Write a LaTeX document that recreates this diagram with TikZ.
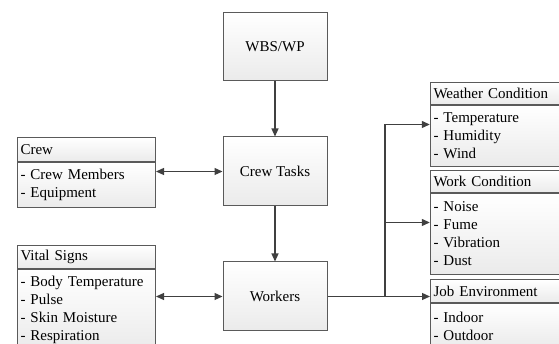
\documentclass[tikz,border=0pt]{standalone}
\usepackage{fontspec}
\setmainfont{Liberation Serif}
\usetikzlibrary{arrows.meta}
\usetikzlibrary{fit}
\definecolor{boxline}{HTML}{5A5A5A}
\definecolor{linkgray}{HTML}{404040}
\tikzset{
	box/.style={draw=boxline, line width=1pt, top color=white, bottom color=black!8, inner sep=3pt},
	mainbox/.style={box, minimum width=104pt, minimum height=69pt},
	headbox/.style={box, anchor=north west, minimum height=23pt, align=left},
	listbox/.style={box, anchor=north west, align=left},
	tip/.style={Triangle[length=8pt,width=7pt]},
	link/.style={draw=linkgray, line width=1.2pt, -{Triangle[length=8pt,width=7pt]}},
	linkboth/.style={link, {Triangle[length=8pt,width=7pt]}-{Triangle[length=8pt,width=7pt]}}
}

\begin{document}
\begin{tikzpicture}[x=1pt, y=1pt, font=\fontsize{15}{18}\selectfont]

	\useasboundingbox (0,0) rectangle (559,344);

	% Main boxes
	\node [mainbox, minimum height=68pt] (wbs) at (275,297) {WBS/WP};
	\node [mainbox] (ctasks) at (275,172.5) {Crew Tasks};
	\node [mainbox] (workers) at (275,47.5) {Workers};

	% Left boxes
	\node [headbox, text width=132pt, minimum height=24pt] (crewhead) at (17,207) {Crew};
	\node [listbox, text width=132pt, minimum height=45pt] (crewlist) at (crewhead.south west) {- Crew Members\\- Equipment};
	\node [headbox, text width=132pt] (vitalhead) at (17,99) {Vital Signs};
	\node [listbox, text width=132pt, minimum height=81pt] (vitallist) at (vitalhead.south west) {- Body Temperature\\- Pulse\\- Skin Moisture\\- Respiration};

	% Right boxes
	\node [headbox, text width=140pt, minimum height=22pt] (weatherhead) at (430,262) {Weather Condition};
	\node [listbox, text width=140pt, minimum height=61pt] (weatherlist) at (weatherhead.south west) {- Temperature\\- Humidity\\- Wind};
	\node [headbox, text width=140pt, minimum height=22pt] (workhead) at (430,174) {Work Condition};
	\node [listbox, text width=140pt, minimum height=81pt] (worklist) at (workhead.south west) {- Noise\\- Fume\\- Vibration\\- Dust};
	\node [headbox, text width=140pt] (jobhead) at (430,65) {Job Environment};
	\node [listbox, text width=140pt, minimum height=45pt] (joblist) at (jobhead.south west) {- Indoor\\- Outdoor};

	\node [fit=(weatherhead)(weatherlist), inner sep=0pt] (weather) {};
	\node [fit=(workhead)(worklist), inner sep=0pt] (work) {};

	% Connectors
	\draw [link] (wbs) -- (ctasks);
	\draw [link] (ctasks) -- (workers);
	\draw [linkboth] (crewlist.east |- ctasks.west) -- (ctasks.west);
	\draw [linkboth] (vitallist.east |- workers.west) -- (workers.west);

	\coordinate (split) at (385,47.5);
	\draw [link] (workers.east) -- (workers.east -| jobhead.west);
	\draw [link] (split) |- (weather.west);
	\draw [link] (split |- work.west) -- (work.west);

\end{tikzpicture}
\end{document}
